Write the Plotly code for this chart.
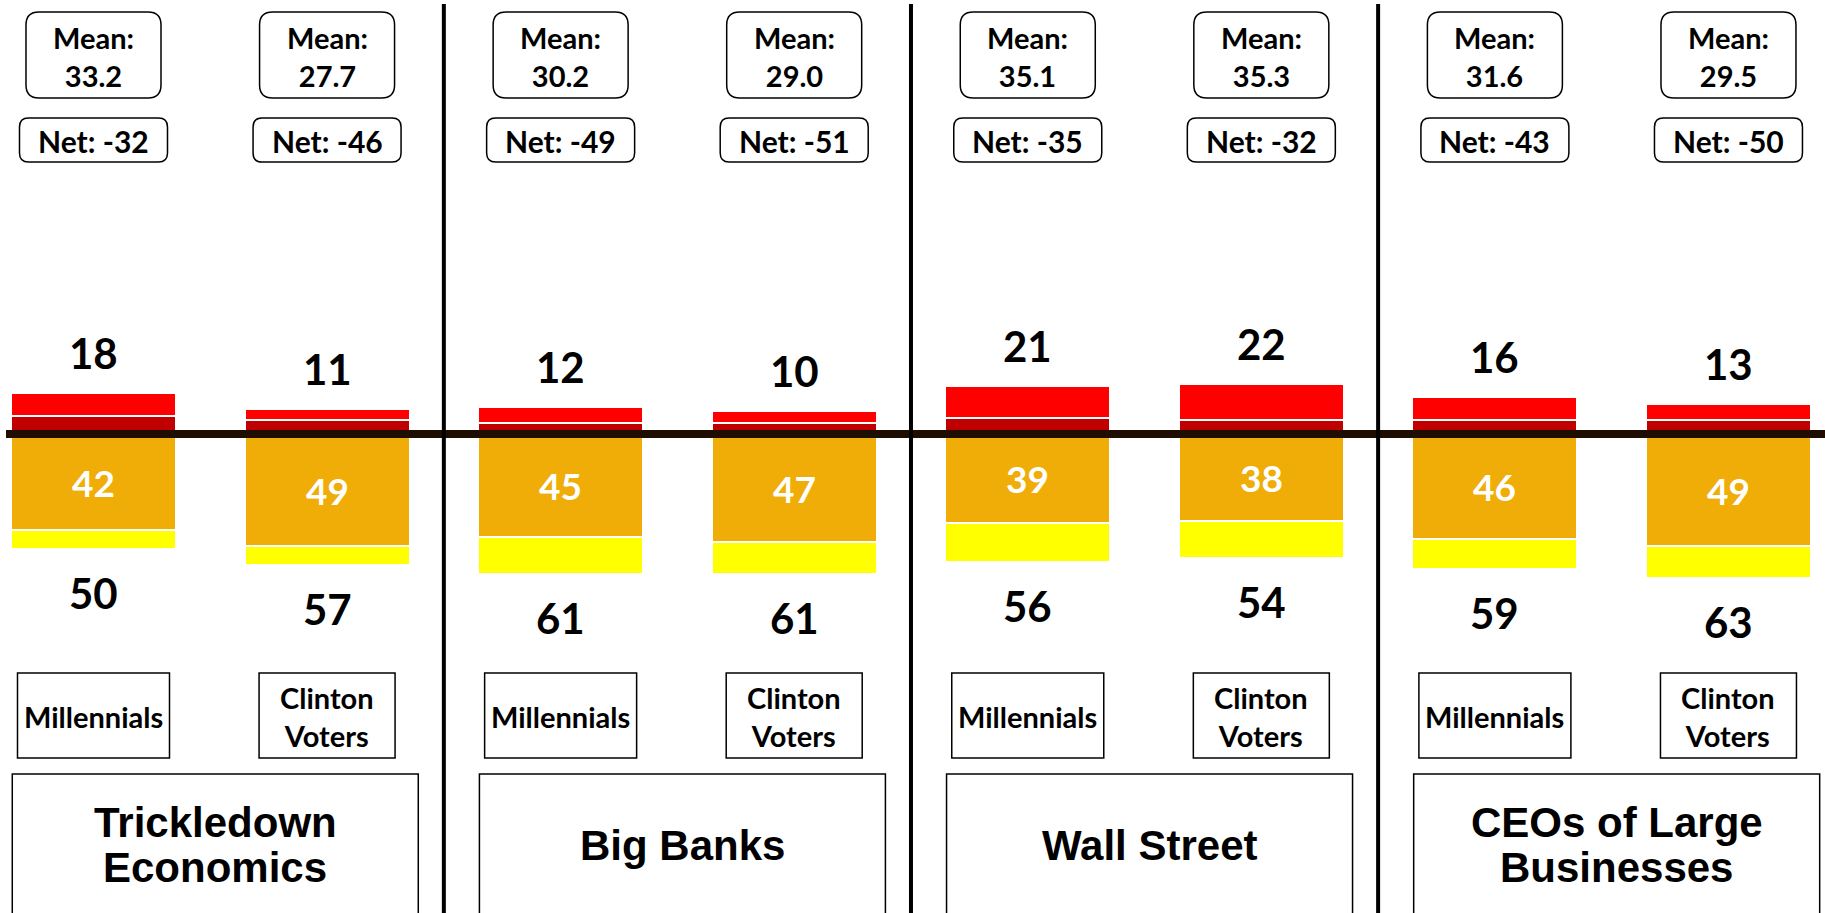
import plotly.graph_objects as go

# ---- data -------------------------------------------------------------
group_titles = [["Trickledown", "Economics"], ["Big Banks"], ["Wall Street"],
                ["CEOs of Large", "Businesses"]]
segments = ["Millennials", "Clinton<br>Voters"]

warm_inner = [8, 6, 5, 5, 7, 6, 6, 6]        # dark red, next to the axis
warm_outer = [10, 5, 7, 5, 14, 16, 10, 7]    # bright red, outermost
cool_inner = [42, 49, 45, 47, 39, 38, 46, 49]  # orange
cool_outer = [8, 8, 16, 14, 17, 16, 13, 14]    # yellow
means = ["33.2", "27.7", "30.2", "29.0", "35.1", "35.3", "31.6", "29.5"]

warm_total = [a + b for a, b in zip(warm_inner, warm_outer)]
cool_total = [a + b for a, b in zip(cool_inner, cool_outer)]
net = [w - c for w, c in zip(warm_total, cool_total)]

# ---- geometry ---------------------------------------------------------
W, H = 1825, 913
X_RANGE = [-0.4003, 7.4133]
Y_RANGE = [-209.17, 189.52]
BAR_W = 0.706
xs = list(range(len(warm_inner)))

def px_x(xd):
    return (xd - X_RANGE[0]) / (X_RANGE[1] - X_RANGE[0]) * W

def pap_x(px):
    return px / W

def pap_y(py):
    return 1 - py / H

FONT = "Lato"
ARIAL = "Liberation Sans, Arial"

fig = go.Figure()
fig.add_trace(go.Bar(x=xs, y=warm_inner, marker_color="#C00000"))
fig.add_trace(go.Bar(x=xs, y=warm_outer, marker_color="#FF0000"))
fig.add_trace(go.Bar(
    x=xs, y=[-v for v in cool_inner], marker_color="#F0AD08",
    text=[str(v) for v in cool_inner], textposition="inside",
    insidetextanchor="middle", textangle=0,
    textfont=dict(family=FONT, size=37, color="white", weight="bold"),
))
fig.add_trace(go.Bar(x=xs, y=[-v for v in cool_outer], marker_color="#FFFF00"))
fig.update_traces(width=BAR_W, marker_line=dict(color="white", width=2),
                  hoverinfo="skip", cliponaxis=False)

annotations = []
shapes = []

def text(x_px, y_px, s, size, family=FONT):
    annotations.append(dict(
        x=pap_x(x_px), y=pap_y(y_px), xref="paper", yref="paper",
        text=s, showarrow=False, xanchor="center", yanchor="middle",
        font=dict(family=family, size=size, color="black", weight="bold"),
    ))

def rounded_box(cx, top, w, h, r, width=1.5):
    l, rt, b = cx - w / 2, cx + w / 2, top + h
    pts = [("M", [(l + r, top)]), ("L", [(rt - r, top)]),
           ("Q", [(rt, top), (rt, top + r)]), ("L", [(rt, b - r)]),
           ("Q", [(rt, b), (rt - r, b)]), ("L", [(l + r, b)]),
           ("Q", [(l, b), (l, b - r)]), ("L", [(l, top + r)]),
           ("Q", [(l, top), (l + r, top)])]
    path = " ".join(
        cmd + " " + " ".join(f"{pap_x(x):.5f},{pap_y(y):.5f}" for x, y in p)
        for cmd, p in pts) + " Z"
    shapes.append(dict(type="path", path=path, xref="paper", yref="paper",
                       line=dict(color="black", width=width)))

def rect(l, top, r, b, width=1.5):
    shapes.append(dict(type="rect", xref="paper", yref="paper",
                       x0=pap_x(l), x1=pap_x(r), y0=pap_y(b), y1=pap_y(top),
                       line=dict(color="black", width=width)))

for i in xs:
    cx = px_x(i)
    # value labels above and below each bar
    annotations.append(dict(x=i, y=warm_total[i], xref="x", yref="y",
                            text=str(warm_total[i]), showarrow=False,
                            yanchor="middle", yshift=40,
                            font=dict(family=FONT, size=42, color="black",
                                      weight="bold")))
    annotations.append(dict(x=i, y=-cool_total[i], xref="x", yref="y",
                            text=str(cool_total[i]), showarrow=False,
                            yanchor="middle", yshift=-44,
                            font=dict(family=FONT, size=42, color="black",
                                      weight="bold")))
    # mean and net boxes
    rounded_box(cx, 12, 135, 86, 13)
    text(cx, 56, f"Mean:<br>{means[i]}", 29)
    rounded_box(cx, 118, 148, 44, 9)
    text(cx, 141, f"Net: {net[i]}", 30)
    # segment label boxes
    if i % 2 == 0:
        rect(cx - 76, 673, cx + 76, 758)
    else:
        rect(cx - 68, 673, cx + 68, 758)
    text(cx, 716, segments[i % 2], 29)

for g, lines in enumerate(group_titles):
    gc = px_x(2 * g + 0.5) + 5
    rect(gc - 203, 774, gc + 203, 930)
    if len(lines) == 2:
        text(gc, 822, lines[0], 42, ARIAL)
        text(gc, 867, lines[1], 42, ARIAL)
    else:
        text(gc, 845, lines[0], 42, ARIAL)

# zero line and group dividers
shapes.append(dict(type="line", xref="paper", yref="y", x0=pap_x(6), x1=1,
                   y0=0, y1=0, line=dict(color="#1F0E00", width=8),
                   layer="above"))
for d in (1.5, 3.5, 5.5):
    shapes.append(dict(type="line", xref="x", yref="paper", x0=d, x1=d,
                       y0=0, y1=pap_y(4), line=dict(color="black", width=4),
                       layer="above"))

fig.update_layout(
    width=W, height=H, margin=dict(l=0, r=0, t=0, b=0),
    barmode="relative", bargap=0, showlegend=False,
    plot_bgcolor="white", paper_bgcolor="white",
    xaxis=dict(range=X_RANGE, visible=False, fixedrange=True),
    yaxis=dict(range=Y_RANGE, visible=False, fixedrange=True),
    annotations=annotations, shapes=shapes,
)

fig.write_html("out.html")
